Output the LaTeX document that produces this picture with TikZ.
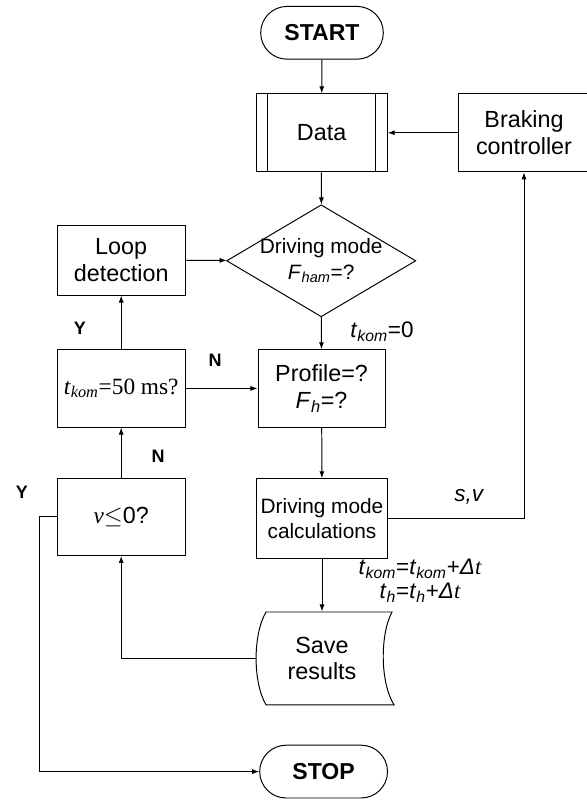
\documentclass[tikz,border=0pt]{standalone}
\usepackage{fontspec}
\setmainfont{Liberation Sans}
\newfontfamily\timesfont{Liberation Serif}
\usetikzlibrary{arrows.meta,shapes.geometric,shapes.misc}
\newcommand{\tkom}{\textit{t}\textsubscript{\textit{kom}}}
\newcommand{\dt}{\textit{Δ}{\timesfont\itshape t}}

\begin{document}
\begin{tikzpicture}[
  box/.style={draw,line width=0.7pt,minimum width=3.2cm,minimum height=1.93cm,align=center,font=\fontsize{16.6}{19}\selectfont},
  term/.style={draw,line width=0.7pt,rounded rectangle,minimum width=3.3cm,minimum height=1.32cm,font=\fontsize{16.4}{19}\selectfont\bfseries},
  yn/.style={font=\fontsize{12.8}{15}\selectfont\bfseries},
  eq/.style={font=\fontsize{16}{19}\selectfont,align=center},
  arr/.style={line width=0.7pt,-{Latex[length=5pt,width=3.6pt]}}]
\useasboundingbox (0,0) rectangle (14.65,20);

\node[term] (start) at (8.05,19.18) {START};
\node[box,minimum width=3.28cm,minimum height=1.95cm] (data) at (8.04,16.68) {Data};
\draw[line width=0.7pt] ([xshift=0.3cm]data.north west) -- ([xshift=0.3cm]data.south west);
\draw[line width=0.7pt] ([xshift=-0.3cm]data.north east) -- ([xshift=-0.3cm]data.south east);
\node[box,minimum width=3.3cm,minimum height=1.95cm] (brake) at (13.1,16.68) {Braking\\controller};
\node[draw,line width=0.7pt,diamond,minimum width=4.73cm,minimum height=2.8cm,inner sep=0pt,
  label={[align=center,font=\fontsize{14.8}{18}\selectfont]center:Driving mode\\\textit{F}\textsubscript{\textit{ham}}=?}] (mode) at (8.03,13.48) {};
\node[box,minimum height=1.75cm] (loop) at (3.03,13.5) {Loop\\detection};
\node[box] (check) at (3.03,10.29) {\timesfont\textit{t}\textsubscript{\textit{kom}}=50 ms?};
\node[box,minimum width=3.18cm] (profile) at (8.04,10.29) {Profile=?\\\textit{F}\textsubscript{\textit{h}}=?};
\node[box] (vcheck) at (3.03,7.08) {{\timesfont\itshape v}$\leq$0?};
\node[box,minimum width=3.25cm,minimum height=1.98cm,font=\fontsize{14.8}{18}\selectfont] (calc) at (8.05,7.04) {Driving mode\\calculations};
\node[minimum width=3.3cm,minimum height=2.33cm,align=center,font=\fontsize{16.6}{19}\selectfont] (save) at (8.05,3.54) {Save\\results};
\draw[line width=0.7pt,shift={(save.center)}] (-1.4,1.16) -- (1.75,1.16)
  .. controls (1.45,0.6) and (1.45,-0.6) .. (1.8,-1.16) -- (-1.4,-1.16)
  .. controls (-1.73,-0.6) and (-1.73,0.6) .. cycle;
\node[term,minimum width=3.43cm] (stop) at (8.09,0.71) {STOP};

\draw[arr] (start) -- (data);
\draw[arr] (brake) -- (data);
\draw[arr] (data) -- (mode);
\draw[arr] (loop) -- (mode);
\draw[arr] (mode) -- (profile);
\draw[arr] (check) -- (profile);
\draw[arr] (check) -- (loop);
\draw[arr] (vcheck) -- (check);
\draw[arr] (profile) -- (calc);
\draw[arr] (calc) -- (save.north);
\draw[arr] (calc.east) -| (brake.south);
\draw[arr] (save.west) -| (vcheck.south);
\draw[arr] (vcheck.west) -- ++(-0.43,0) |- (stop.west);

\node[yn] (y1) at (2.0,11.8) {Y};
\node[yn] (n1) at (5.38,10.98) {N};
\node[yn] (n2) at (3.95,8.6) {N};
\node[yn] (y2) at (0.55,7.7) {Y};
\node[eq] (tzero) at (9.55,11.7) {\tkom=0};
\node[eq] (sv) at (11.73,7.58) {\textit{s,v}};
\node[eq,inner sep=0pt] (tinc) at (10.5,5.48) {\tkom=\tkom+\dt\\[-2pt]\textit{t}\textsubscript{\textit{h}}=\textit{t}\textsubscript{\textit{h}}+\dt};
\end{tikzpicture}
\end{document}
